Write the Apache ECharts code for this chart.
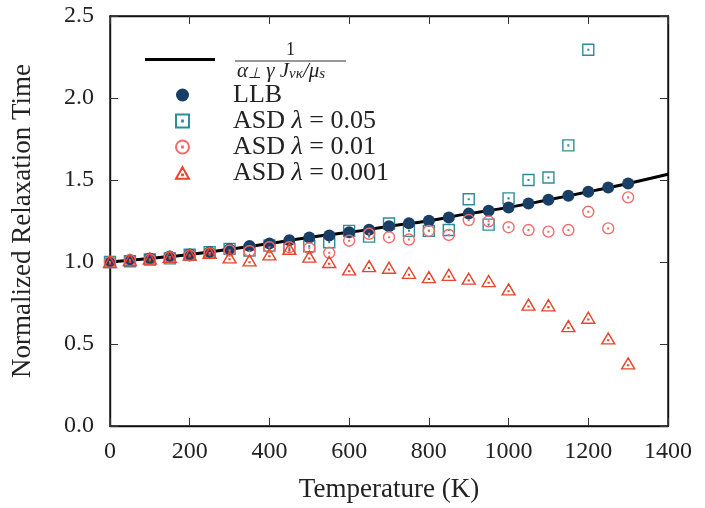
<!DOCTYPE html>
<html>
<head>
<meta charset="utf-8">
<script src="https://cdn.jsdelivr.net/npm/echarts@6/dist/echarts.min.js"></script>
<style>
  html, body { margin: 0; padding: 0; background: #fff; }
  #chart { width: 705px; height: 508px; }
</style>
</head>
<body>
<div id="chart"></div>
<script>
// Temperatures (K) at which the relaxation time was sampled
const temps = [0, 50, 100, 150, 200, 250, 300, 350, 400, 450, 500, 550, 600, 650,
  700, 750, 800, 850, 900, 950, 1000, 1050, 1100, 1150, 1200, 1250, 1300];

// LLB relaxation time, normalized to T = 0
const llb = [1.0, 1.012, 1.022, 1.034, 1.046, 1.06, 1.078, 1.097, 1.113, 1.132, 1.15, 1.162,
  1.181, 1.197, 1.218, 1.236, 1.252, 1.272, 1.295, 1.313, 1.333, 1.357, 1.379, 1.404,
  1.428, 1.454, 1.479];

// Atomistic spin dynamics, three damping values
const asd005 = [1.0, 1.005, 1.015, 1.022, 1.044, 1.06, 1.08, 1.07, 1.1, 1.08, 1.096, 1.12,
  1.19, 1.155, 1.235, 1.19, 1.19, 1.195, 1.383, 1.228, 1.388, 1.5, 1.515, 1.711, 2.294,
  null, null];
const asd001 = [1.0, 1.01, 1.015, 1.03, 1.04, 1.054, 1.07, 1.066, 1.09, 1.09, 1.084, 1.056,
  1.13, 1.172, 1.151, 1.137, 1.19, 1.165, 1.256, 1.248, 1.212, 1.195, 1.185, 1.195,
  1.306, 1.205, 1.394];
const asd0001 = [1.0, 1.012, 1.02, 1.032, 1.045, 1.055, 1.028, 1.01, 1.046, 1.08, 1.033, 1.0,
  0.955, 0.975, 0.965, 0.934, 0.908, 0.922, 0.898, 0.884, 0.833, 0.74, 0.736, 0.609,
  0.66, 0.534, 0.382];

// Analytic curve 1/(alpha_perp gamma J / mu_s)
const curveT = [0, 100, 200, 300, 400, 500, 600, 700, 800, 900, 1000, 1100, 1200, 1300, 1400];
const curveY = [1.0, 1.022, 1.046, 1.078, 1.113, 1.15, 1.181, 1.218, 1.252, 1.295, 1.333,
  1.379, 1.428, 1.479, 1.535];

// Axis ticks
const xTicks = { min: 0, max: 1400, interval: 200 };
const yTicks = { min: 0, max: 2.5, interval: 0.5 };

const FONT = 'Liberation Serif';
const TEXT = '#222';
const NAME_SIZE = 27;

const pair = (xs, ys) => xs.map((x, i) => [x, ys[i]]);

const SQUARE = 'path://M0 0H20V20H0Z M9.4 9.4H10.6V10.6H9.4Z';
const CIRCLE = 'path://M10 0A10 10 0 1 1 10 20A10 10 0 1 1 10 0Z M9.4 9.4H10.6V10.6H9.4Z';
const TRIANGLE = 'path://M10 0L20 18H0Z M9.4 11.4H10.6V12.6H9.4Z';

const hollow = (c) => ({ color: 'rgba(255,255,255,0)', borderColor: c, borderWidth: 1.4, opacity: 1 });

const C_LLB = '#1a3f66';
const C_05 = '#2b8d98';
const C_01 = '#f26b6b';
const C_001 = '#e8452c';

function axisCommon(show) {
  return {
    show: true,
    axisLine: { show: true, onZero: false, lineStyle: { color: '#111', width: 1.4 } },
    axisTick: { show: true, inside: true, length: 8, lineStyle: { color: '#333', width: 1 } },
    splitLine: { show: false },
    axisLabel: show
      ? { show: true, fontFamily: FONT, fontSize: 24, color: TEXT }
      : { show: false }
  };
}

const chart = echarts.init(document.getElementById('chart'), null, { renderer: 'canvas' });

chart.setOption({
  backgroundColor: '#fff',
  animation: false,
  grid: {
    left: 110, right: 37, top: 16, bottom: 80, containLabel: false,
    show: true, borderColor: '#111', borderWidth: 1.4, backgroundColor: 'transparent'
  },
  xAxis: [
    Object.assign({
      type: 'value', position: 'bottom', ...xTicks,
      name: 'Temperature (K)', nameLocation: 'middle', nameGap: 50,
      nameTextStyle: { fontFamily: FONT, fontSize: NAME_SIZE, color: TEXT }
    }, axisCommon(true), {
      axisLabel: {
        show: true, fontFamily: FONT, fontSize: 24, color: TEXT, margin: 14,
        formatter: (v) => String(v)
      }
    }),
    Object.assign({ type: 'value', position: 'top', ...xTicks }, axisCommon(false))
  ],
  yAxis: [
    Object.assign({
      type: 'value', position: 'left', ...yTicks,
      name: 'Normalized Relaxation Time', nameLocation: 'middle', nameGap: 74,
      nameTextStyle: { fontFamily: FONT, fontSize: NAME_SIZE, color: TEXT }
    }, axisCommon(true), {
      axisLabel: {
        show: true, fontFamily: FONT, fontSize: 24, color: TEXT, margin: 16,
        formatter: (v) => v.toFixed(1)
      }
    }),
    Object.assign({ type: 'value', position: 'right', ...yTicks }, axisCommon(false))
  ],
  legend: [
    {
      data: ['curve'],
      orient: 'vertical',
      left: 140, top: 53,
      icon: 'rect', itemWidth: 70, itemHeight: 3,
      selectedMode: false,
      formatter: () => '',
      textStyle: { fontSize: 12, lineHeight: 12 }
    },
    {
      data: ['LLB', 'ASD 0.05', 'ASD 0.01', 'ASD 0.001'],
      orient: 'vertical',
      left: 170, top: 77,
      itemWidth: 13, itemHeight: 13, itemGap: 0,
      selectedMode: false,
      formatter: (name) => {
        if (name === 'LLB') return '{t|LLB}';
        const lam = name.split(' ')[1];
        return '{t|ASD }{i|λ}{t| = ' + lam + '}';
      },
      textStyle: {
        padding: [0, 0, 0, 39],
        rich: {
          t: { fontFamily: FONT, fontSize: 26, color: TEXT, lineHeight: 32 },
          i: { fontFamily: FONT, fontStyle: 'italic', fontSize: 26, color: TEXT, lineHeight: 32 }
        }
      }
    }
  ],
  // Fraction label of the analytic curve's legend entry
  graphic: [
    {
      type: 'text', left: 286, top: 41,
      style: { text: '1', fontFamily: FONT, fontSize: 18, fill: TEXT }
    },
    {
      type: 'line', shape: { x1: 235, y1: 61, x2: 346, y2: 61 },
      style: { stroke: '#333', lineWidth: 1.2 }
    },
    {
      type: 'text', left: 237, top: 61,
      style: {
        text: '{d|α}{sub|⊥}{d| γ J}{sub|νκ}{d|/μ}{sub|s}',
        rich: {
          d: { fontFamily: FONT, fontStyle: 'italic', fontSize: 21, fill: TEXT, lineHeight: 20 },
          sub: { fontFamily: FONT, fontStyle: 'italic', fontSize: 15, fill: TEXT, lineHeight: 20, verticalAlign: 'bottom' }
        }
      }
    }
  ],
  series: [
    {
      // analytic curve is plotted against the mirrored (top/right) axes, same scale
      name: 'curve', type: 'line', data: pair(curveT, curveY),
      xAxisIndex: 1, yAxisIndex: 1,
      showSymbol: false, smooth: true,
      lineStyle: { color: '#000', width: 3 }, itemStyle: { color: '#000' }, z: 2
    },
    {
      name: 'ASD 0.05', type: 'scatter', data: pair(temps, asd005),
      symbol: SQUARE, symbolSize: 11, itemStyle: hollow(C_05), z: 3
    },
    {
      name: 'LLB', type: 'scatter', data: pair(temps, llb),
      symbol: 'circle', symbolSize: 12, itemStyle: { color: C_LLB, opacity: 1 }, z: 4
    },
    {
      name: 'ASD 0.01', type: 'scatter', data: pair(temps, asd001),
      symbol: CIRCLE, symbolSize: 11, itemStyle: hollow(C_01), z: 5
    },
    {
      name: 'ASD 0.001', type: 'scatter', data: pair(temps, asd0001),
      symbol: TRIANGLE, symbolSize: [13, 11], itemStyle: hollow(C_001), z: 6
    }
  ]
});
</script>
</body>
</html>
